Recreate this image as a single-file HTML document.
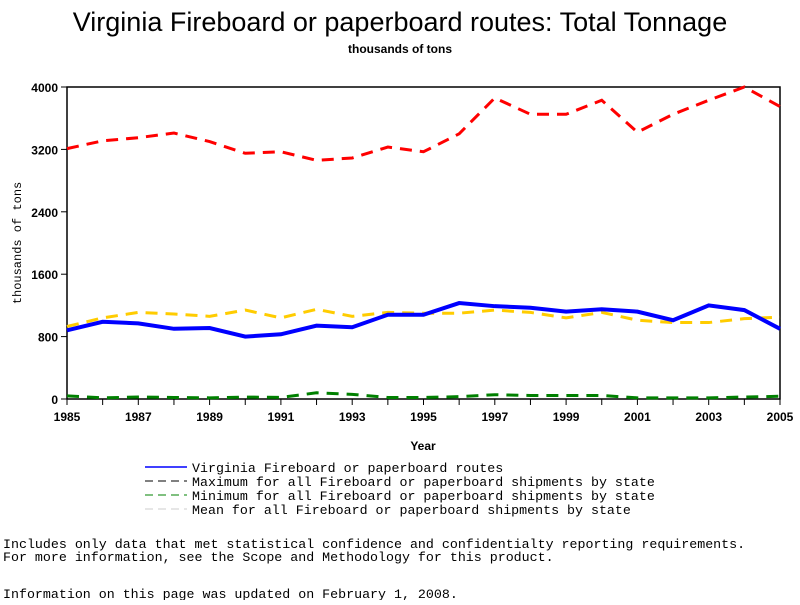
<!DOCTYPE html>
<html><head><meta charset="utf-8"><style>
body{margin:0;background:#fff;width:800px;height:600px;overflow:hidden}
svg text{font-family:"Liberation Sans",sans-serif}
svg text.mono{font-family:"Liberation Mono",monospace;font-size:13.3px}
</style></head><body>
<svg id="c" width="800" height="600">
<text x="400" y="31" text-anchor="middle" font-size="27">Virginia Fireboard or paperboard routes: Total Tonnage</text>
<text x="400" y="53" text-anchor="middle" font-size="12" font-weight="bold">thousands of tons</text>
<text transform="translate(21,243) rotate(-90)" text-anchor="middle" class="mono" style="font-size:12px">thousands of tons</text>
<text x="423" y="450" text-anchor="middle" font-size="12" font-weight="bold">Year</text>
<g id="axes"></g><g id="series"></g>
<g>
<line x1="145" y1="467" x2="187" y2="467" stroke="#0000ff" stroke-width="1.5"/><text x="192" y="472" class="mono">Virginia Fireboard or paperboard routes</text>
<line x1="145" y1="481" x2="187" y2="481" stroke="#000" stroke-dasharray="8,5"/><text x="192" y="486" class="mono">Maximum for all Fireboard or paperboard shipments by state</text>
<line x1="145" y1="495" x2="187" y2="495" stroke="#008000" stroke-dasharray="8,5"/><text x="192" y="500" class="mono">Minimum for all Fireboard or paperboard shipments by state</text>
<line x1="145" y1="509" x2="187" y2="509" stroke="#ccc" stroke-dasharray="8,5"/><text x="192" y="514" class="mono">Mean for all Fireboard or paperboard shipments by state</text>
</g>
<text x="3" y="548" class="mono">Includes only data that met statistical confidence and confidentialty reporting requirements.</text>
<text x="3" y="561" class="mono">For more information, see the Scope and Methodology for this product.</text>
<text x="3" y="598" class="mono">Information on this page was updated on February 1, 2008.</text>
</svg>
<script>
const years=[1985,1986,1987,1988,1989,1990,1991,1992,1993,1994,1995,1996,1997,1998,1999,2000,2001,2002,2003,2004,2005];
const virginia=[880,990,970,900,910,800,830,940,920,1080,1080,1230,1190,1170,1120,1150,1120,1010,1200,1140,900];
const maximum=[3210,3310,3350,3410,3300,3150,3170,3060,3090,3230,3170,3400,3860,3650,3650,3830,3420,3650,3830,4000,3750];
const minimum=[40,15,25,20,15,25,20,80,60,20,20,30,55,45,45,45,15,15,15,25,35];
const mean=[930,1040,1110,1090,1060,1140,1040,1150,1060,1110,1100,1100,1140,1110,1040,1110,1010,980,980,1030,1050];
const yTicks=[0,800,1600,2400,3200,4000];
const xTicks=[1985,1987,1989,1991,1993,1995,1997,1999,2001,2003,2005];
const X0=67,X1=780,Y0=399,Y1=87;
const xs=v=>X0+(v-1985)/20*(X1-X0), ys=v=>Y0-v/4000*(Y0-Y1);
const NS="http://www.w3.org/2000/svg";
function mk(t,a,p){const e=document.createElementNS(NS,t);for(const k in a)e.setAttribute(k,a[k]);p.appendChild(e);return e;}
const ax=document.getElementById('axes');
const fr=mk('rect',{x:X0,y:Y1,width:X1-X0,height:Y0-Y1,fill:'none',stroke:'#000','stroke-width':1.5},ax);


yTicks.forEach(v=>{const y=ys(v);mk('line',{x1:X0-6,y1:y,x2:X0,y2:y,stroke:'#000'},ax);
const t=mk('text',{x:X0-9,y:y+5,'text-anchor':'end','font-size':12,'font-weight':'bold'},ax);t.textContent=v;

});
years.forEach(v=>mk('line',{x1:xs(v),y1:Y0,x2:xs(v),y2:Y0+6,stroke:'#000'},ax));
xTicks.forEach(v=>{const t=mk('text',{x:xs(v),y:Y0+22,'text-anchor':'middle','font-size':12,'font-weight':'bold'},ax);t.textContent=v;

});
const sg=document.getElementById('series');
function line(d,col,dash,name,w){const p=mk('polyline',{points:d.map((v,i)=>xs(years[i])+','+ys(v)).join(' '),fill:'none',stroke:col,'stroke-width':w},sg);
if(dash)p.setAttribute('stroke-dasharray',dash);

}
line(maximum,'#ff0000','12,8','series-maximum',3);
line(mean,'#ffcc00','12,8','series-mean',3);
line(minimum,'#008000','12,8','series-minimum',3);
line(virginia,'#0000ff',null,'series-virginia',4);
</script>
</body></html>
